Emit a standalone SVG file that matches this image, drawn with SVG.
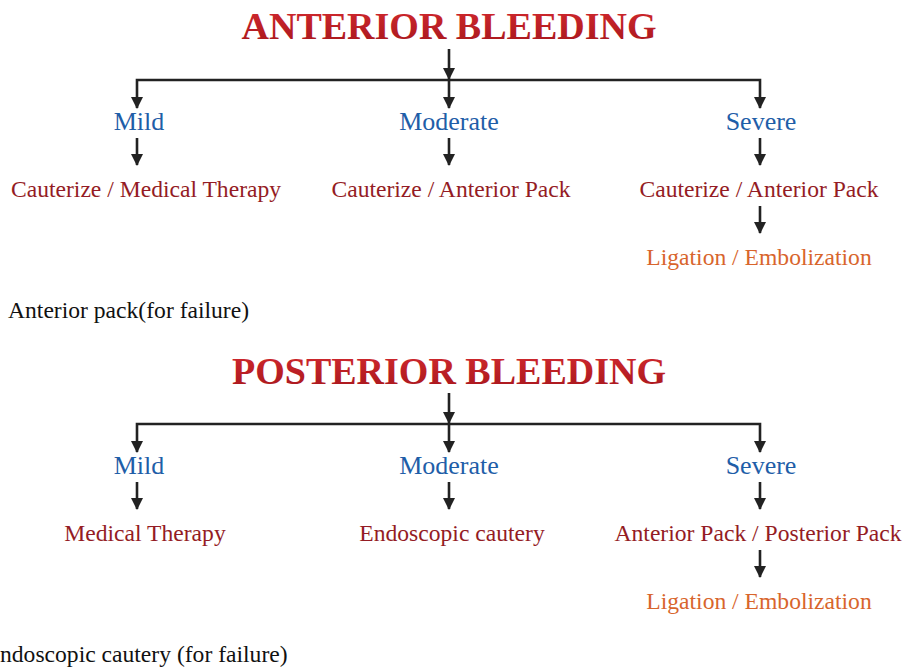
<svg xmlns="http://www.w3.org/2000/svg" width="907" height="667" viewBox="0 0 907 667">
<defs>
<linearGradient id="tg" x1="0" y1="0" x2="0" y2="1">
<stop offset="0" stop-color="#d42a2f"/>
<stop offset="1" stop-color="#a5161c"/>
</linearGradient>
<marker id="ah" viewBox="0 0 12 12" markerWidth="12" markerHeight="12" refX="11" refY="6" orient="auto-start-reverse" markerUnits="userSpaceOnUse">
<path d="M0,0 L12,6 L0,12 z" fill="#222"/>
</marker>
<style>
text{font-family:"Liberation Serif","Times New Roman",serif}
.title{font-size:38px;font-weight:bold;fill:url(#tg);text-anchor:middle}
.lvl{font-size:26px;fill:#1f5ea8;text-anchor:middle}
.tx{font-size:23.6px;fill:#941c24;text-anchor:middle}
.or{font-size:23.6px;fill:#d8652c;text-anchor:middle}
.note{font-size:23.6px;fill:#111}
.c{fill:none;stroke:#222;stroke-width:2.6}
.a{marker-end:url(#ah)}
</style>
</defs>
<rect width="907" height="667" fill="#fff"/>
<g id="connectors">
<path class="c a" d="M449,49 V79"/>
<path class="c" d="M137,108 V80 H760 V108" style="marker-start:url(#ah);marker-end:url(#ah)"/>
<path class="c a" d="M449,80 V108"/>
<path class="c a" d="M137,138 V165"/>
<path class="c a" d="M449,138 V165"/>
<path class="c a" d="M760,138 V165"/>
<path class="c a" d="M760,206 V233"/>
<path class="c a" d="M449,393 V423"/>
<path class="c" d="M137,452 V424 H760 V452" style="marker-start:url(#ah);marker-end:url(#ah)"/>
<path class="c a" d="M449,424 V452"/>
<path class="c a" d="M137,482 V509"/>
<path class="c a" d="M449,482 V509"/>
<path class="c a" d="M760,482 V509"/>
<path class="c a" d="M760,550 V577"/>
</g>
<g id="anterior-title"><text class="title" x="449" y="39">ANTERIOR BLEEDING</text></g>
<g id="a-mild"><text class="lvl" x="139" y="130">Mild</text></g>
<g id="a-moderate"><text class="lvl" x="449" y="130">Moderate</text></g>
<g id="a-severe"><text class="lvl" x="761" y="130">Severe</text></g>
<g id="a-mild-tx"><text class="tx" x="146" y="197">Cauterize / Medical Therapy</text></g>
<g id="a-moderate-tx"><text class="tx" x="451" y="197">Cauterize / Anterior Pack</text></g>
<g id="a-severe-tx"><text class="tx" x="759" y="197">Cauterize / Anterior Pack</text></g>
<g id="a-severe-tx2"><text class="or" x="759" y="265">Ligation / Embolization</text></g>
<g id="a-note"><text class="note" x="8" y="318">Anterior pack(for failure)</text></g>
<g id="posterior-title"><text class="title" x="449" y="384">POSTERIOR BLEEDING</text></g>
<g id="p-mild"><text class="lvl" x="139" y="474">Mild</text></g>
<g id="p-moderate"><text class="lvl" x="449" y="474">Moderate</text></g>
<g id="p-severe"><text class="lvl" x="761" y="474">Severe</text></g>
<g id="p-mild-tx"><text class="tx" x="145" y="541">Medical Therapy</text></g>
<g id="p-moderate-tx"><text class="tx" x="452" y="541">Endoscopic cautery</text></g>
<g id="p-severe-tx"><text class="tx" x="758" y="541">Anterior Pack / Posterior Pack</text></g>
<g id="p-severe-tx2"><text class="or" x="759" y="609">Ligation / Embolization</text></g>
<g id="p-note"><text class="note" x="0" y="662">ndoscopic cautery (for failure)</text></g>
</svg>
